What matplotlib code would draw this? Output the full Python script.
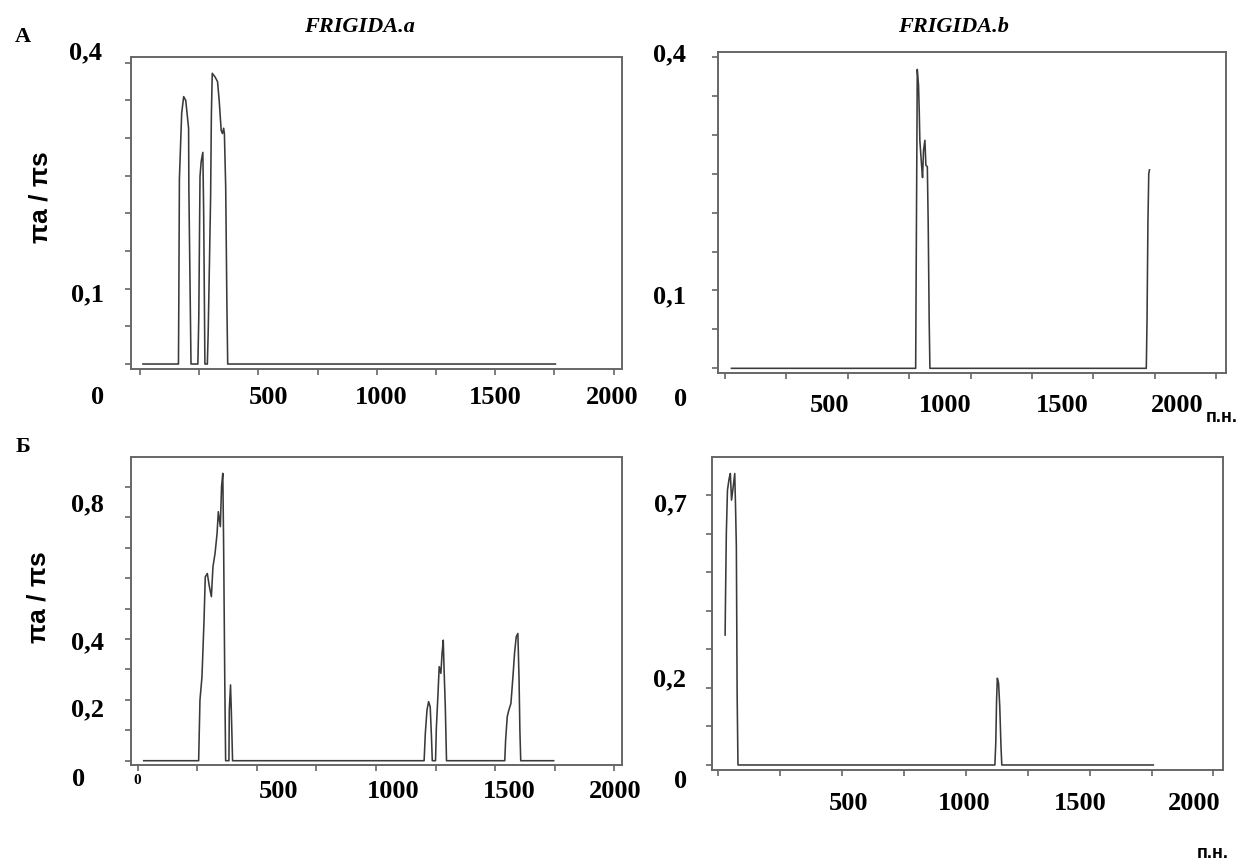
import numpy as np
import matplotlib
matplotlib.use("Agg")
import matplotlib.pyplot as plt

W, H = 1249, 865

# --- data (position in bp, pi_a / pi_s) ---
# A, FRIGIDA.a
tl_x = [12, 162, 163.5, 166, 175.6, 184, 192.8, 204.8, 206, 215, 244,
        247.9, 253, 258, 265, 268.5, 273.7, 284,
        287.4, 292.6, 297.8, 301, 304.7, 316.7, 327, 334, 342.5, 347.7,
        352.9, 356, 361.5, 366.6, 370, 1754]
tl_y = [0, 0, 0.083, 0.246, 0.333, 0.355, 0.350, 0.313, 0.231, 0, 0,
        0.063, 0.249, 0.269, 0.281, 0.200, 0, 0,
        0.040, 0.129, 0.222, 0.330, 0.386, 0.381, 0.375, 0.350, 0.310, 0.306,
        0.313, 0.306, 0.235, 0.078, 0, 0]

# A, FRIGIDA.b
tr_x = [26, 776, 777.6, 781, 782.5, 787.6, 790.6, 793, 800, 804, 808,
        813.6, 817.6, 823.5, 827, 831, 834, 1715, 1718, 1721.6, 1725, 1728]
tr_y = [0, 0, 0.097, 0.289, 0.384, 0.364, 0.330, 0.293, 0.261, 0.245, 0.280,
        0.293, 0.261, 0.259, 0.187, 0.062, 0, 0, 0.062, 0.186, 0.250, 0.255]

# Б, left
bl_x = [25.6, 256, 261.5, 270, 278.6, 283.8, 292.3, 301, 309.4, 316, 324.8,
        333.3, 338.5, 347, 352, 357.3, 360.7, 365.8, 369.2, 383,
        384.6, 389.7, 393, 398.3, 1201.7,
        1206.8, 1213.7, 1220.5, 1227.3, 1232.5, 1236, 1249.6,
        1253, 1260, 1265, 1272, 1277, 1282, 1285.5, 1290.6, 1295.7, 1540,
        1543.6, 1550.4, 1557, 1565.8, 1574.3, 1581, 1588, 1595, 1600, 1603.4,
        1607, 1745]
bl_y = [0, 0, 0.199, 0.276, 0.462, 0.604, 0.615, 0.572, 0.539, 0.637, 0.681,
        0.747, 0.818, 0.769, 0.900, 0.944, 0.714, 0.243, 0, 0,
        0.166, 0.249, 0.166, 0, 0,
        0.090, 0.166, 0.194, 0.177, 0.079, 0, 0,
        0.106, 0.221, 0.309, 0.287, 0.353, 0.396, 0.298, 0.177, 0, 0,
        0.068, 0.145, 0.166, 0.188, 0.276, 0.353, 0.407, 0.418, 0.265, 0.100,
        0, 0]

# Б, right
br_x = [27.5, 29, 32.4, 37, 43.7, 48.6, 53.4, 60, 66.4, 69.6, 72.9, 76, 79.4,
        1117, 1120.6, 1123.9, 1127, 1132, 1136.8, 1141.7, 1145, 1757]
br_y = [0.337, 0.428, 0.600, 0.713, 0.743, 0.756, 0.687, 0.721, 0.756, 0.670,
        0.566, 0.186, 0, 0, 0.056, 0.168, 0.225, 0.212, 0.151, 0.048, 0, 0]

LINE = "#3a3a3a"
FRAME = "#666666"
SERIF = "Liberation Serif"
SANS = "Liberation Sans"


def fx(x):
    return x / W


def fy(y):
    return 1 - y / H


def make_axes(fig, left, right, top, bottom, xlim, ylim, ystep):
    ax = fig.add_axes([fx(left), fy(bottom), (right - left) / W, (bottom - top) / H])
    ax.set_xlim(*xlim)
    ax.set_ylim(*ylim)
    ax.set_xticks(np.arange(0, 2001, 250))
    ax.set_yticks(np.arange(0, ylim[1] + 1e-6, ystep))
    ax.set_xticklabels([])
    ax.set_yticklabels([])
    ax.tick_params(direction="out", length=4, width=1.2, color=FRAME)
    for s in ax.spines.values():
        s.set_color(FRAME)
        s.set_linewidth(1.4)
    return ax


def txt(fig, x, y, s, size=19, family=SERIF, weight="bold", style="normal", **kw):
    fig.text(fx(x), fy(y), s, fontsize=size, family=family, weight=weight,
             style=style, ha="center", va="center", **kw)


fig = plt.figure(figsize=(W / 100, H / 100), dpi=100)

ax1 = make_axes(fig, 130.7, 621.7, 56.7, 369.3, (-39.7, 2034), (-0.007, 0.408), 0.05)
ax1.plot(tl_x, tl_y, color=LINE, lw=1.15)

ax2 = make_axes(fig, 717.7, 1226, 52.3, 373.3, (-30, 2039.5), (-0.0064, 0.406), 0.05)
ax2.plot(tr_x, tr_y, color=LINE, lw=1.15)

ax3 = make_axes(fig, 130.7, 622.3, 456.7, 765, (-29, 2033), (-0.0141, 0.9987), 0.1)
ax3.plot(bl_x, bl_y, color=LINE, lw=1.15)

ax4 = make_axes(fig, 711.5, 1222.9, 457.3, 770, (-27.5, 2038), (-0.013, 0.798), 0.1)
ax4.plot(br_x, br_y, color=LINE, lw=1.15)

# titles and panel letters
txt(fig, 359, 27, "FRIGIDA.a", size=16, style="italic")
txt(fig, 953, 27, "FRIGIDA.b", size=16, style="italic")
txt(fig, 23, 37, "А", size=16)
txt(fig, 23, 447, "Б", size=16)

# y axis titles
txt(fig, 41, 197, "πa / πs", size=19, family=SANS, rotation=90)
txt(fig, 39, 597, "πa / πs", size=19, family=SANS, rotation=90)

# y tick labels
txt(fig, 86, 53, "0,4")
txt(fig, 88, 295, "0,1")
txt(fig, 670, 55, "0,4")
txt(fig, 670, 297, "0,1")
txt(fig, 87, 505, "0,8")
txt(fig, 87, 643, "0,4")
txt(fig, 87, 710, "0,2")
txt(fig, 670, 505, "0,7")
txt(fig, 670, 680, "0,2")

# x tick labels (as placed in the original figure)
for x, s in [(98, "0"), (269, "500"), (381, "1000"), (495, "1500"), (612, "2000")]:
    txt(fig, x, 398, s)
for x, s in [(681, "0"), (830, "500"), (945, "1000"), (1062, "1500"), (1177, "2000")]:
    txt(fig, x, 406 if s != "0" else 400, s)
for x, s in [(79, "0"), (279, "500"), (393, "1000"), (509, "1500"), (615, "2000")]:
    txt(fig, x, 791 if s != "0" else 780, s)
txt(fig, 137, 780, "0", size=11)
for x, s in [(681, "0"), (849, "500"), (964, "1000"), (1080, "1500"), (1194, "2000")]:
    txt(fig, x, 803 if s != "0" else 782, s)

# units
txt(fig, 1222, 417, "п.н.", size=13, family=SANS)
txt(fig, 1213, 853, "п.н.", size=13, family=SANS)

fig.savefig("out.png", dpi=100)
